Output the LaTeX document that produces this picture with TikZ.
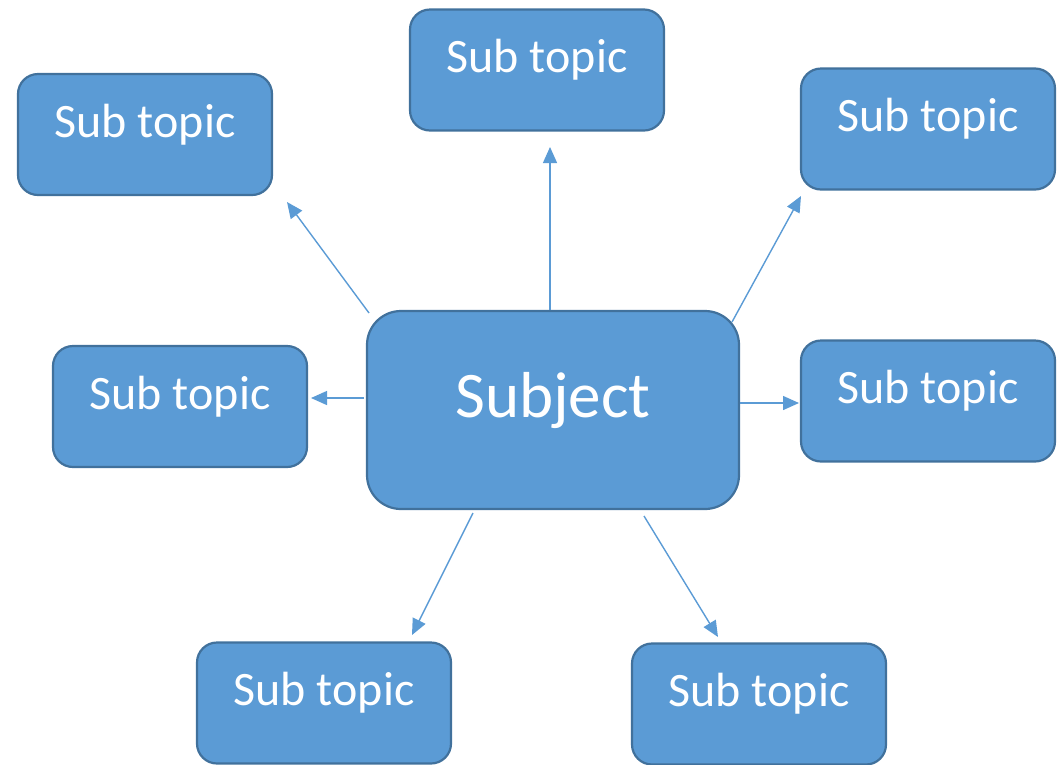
\documentclass[tikz,border=0pt]{standalone}
\usepackage{fontspec}
\setmainfont{Carlito}
\usetikzlibrary{arrows.meta}
\definecolor{boxfill}{HTML}{5B9BD5}
\definecolor{boxline}{HTML}{41719C}
\tikzset{
  subbox/.style={draw=boxline, fill=boxfill, line width=2.2pt, rounded corners=20pt,
    minimum width=254pt, minimum height=121pt, inner sep=0pt, text=white,
    font=\fontsize{48}{52}\selectfont, text height=20pt, text depth=15pt},
  mainbox/.style={draw=boxline, fill=boxfill, line width=2.2pt, rounded corners=34pt,
    minimum width=372pt, minimum height=198pt, inner sep=0pt, text=white,
    font=\fontsize{65}{70}\selectfont, text height=34pt, text depth=20pt},
  conn/.style={draw=boxfill, line width=1.4pt, -{Triangle[length=16pt,width=14pt]}}
}
\begin{document}
\begin{tikzpicture}[x=1pt,y=-1pt]
\useasboundingbox (0,0) rectangle (1064,764);
\node[mainbox] (subj) at (553,410) {Subject};
\node[subbox] (tc) at (537,70) {Sub topic};
\node[subbox] (tl) at (145,134.5) {Sub topic};
\node[subbox] (tr) at (928,129) {Sub topic};
\node[subbox] (ml) at (180,406.5) {Sub topic};
\node[subbox] (mr) at (928,401) {Sub topic};
\node[subbox] (bl) at (324,703) {Sub topic};
\node[subbox] (br) at (759,704) {Sub topic};
\coordinate (sU) at (550,310);  \coordinate (eU) at (550,147);
\coordinate (sUL) at (369,313); \coordinate (eUL) at (287,202);
\coordinate (sUR) at (732,322); \coordinate (eUR) at (801,196);
\coordinate (sL) at (364,398);  \coordinate (eL) at (311,398);
\coordinate (sR) at (740,403);  \coordinate (eR) at (799,403);
\coordinate (sLL) at (473,513); \coordinate (eLL) at (412,635);
\coordinate (sLR) at (644,516); \coordinate (eLR) at (718,637);
\draw[conn] (sU) -- (eU);
\draw[conn] (sUL) -- (eUL);
\draw[conn] (sUR) -- (eUR);
\draw[conn] (sL) -- (eL);
\draw[conn] (sR) -- (eR);
\draw[conn] (sLL) -- (eLL);
\draw[conn] (sLR) -- (eLR);
\end{tikzpicture}
\end{document}
